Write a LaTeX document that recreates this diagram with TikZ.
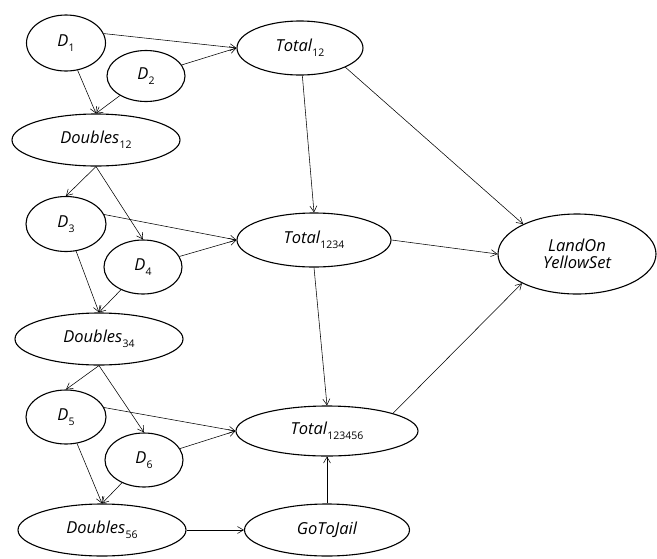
\documentclass[tikz,border=0pt]{standalone}
\usepackage{fontspec}
\setmainfont{Open Sans}
\usetikzlibrary{shapes.geometric,arrows.meta}
\newcommand{\lbl}[2]{\itshape #1\kern0.3pt\raisebox{-5pt}{\fontsize{10.5}{10.5}\selectfont\upshape #2}}
\begin{document}
\begin{tikzpicture}[x=1pt,y=-1pt,
  nd/.style={ellipse,draw,line width=1.1pt,inner sep=0pt,font=\fontsize{16.5}{19}\selectfont},
  arr/.style={-{Straight Barb[length=6pt,width=7pt]},line width=0.55pt}]
\useasboundingbox (0,0) rectangle (657,558);
\node[nd,minimum width=79,minimum height=56] (D1) at (66,43) {\lbl{D}{1}};
\node[nd,minimum width=78,minimum height=51] (D2) at (146,76) {\lbl{D}{2}};
\node[nd,minimum width=126,minimum height=54] (T12) at (300,48) {\lbl{Total}{12}};
\node[nd,minimum width=168,minimum height=52] (B12) at (96,140) {\lbl{Doubles}{12}};
\node[nd,minimum width=80,minimum height=55] (D3) at (66,224) {\lbl{D}{3}};
\node[nd,minimum width=78,minimum height=54] (D4) at (143,267) {\lbl{D}{4}};
\node[nd,minimum width=154,minimum height=54] (T1234) at (314,240) {\lbl{Total}{1234}};
\node[nd,minimum width=168,minimum height=52] (B34) at (99,339) {\lbl{Doubles}{34}};
\node[nd,minimum width=80,minimum height=54] (D5) at (66,417) {\lbl{D}{5}};
\node[nd,minimum width=78,minimum height=54] (D6) at (144,460) {\lbl{D}{6}};
\node[nd,minimum width=182,minimum height=50] (T123456) at (327,431) {\lbl{Total}{123456}};
\node[nd,minimum width=168,minimum height=52] (B56) at (102,530) {\lbl{Doubles}{56}};
\node[nd,minimum width=165,minimum height=52] (GTJ) at (327,530) {\itshape GoToJail};
\node[nd,minimum width=158,minimum height=80,align=center] (LOY) at (577,254) {\itshape LandOn\\[-2pt]\itshape YellowSet};
% edges
\draw[arr] (D1.14) -- (T12.west);
\draw[arr] (D2) -- (T12.west);
\draw[arr] (D1) -- (B12.north);
\draw[arr] (D2) -- (B12.north);
\draw[arr] (B12.south) -- (D3.north);
\draw[arr] (B12.south) -- (D4.north);
\draw[arr] (D3.14) -- (T1234.west);
\draw[arr] (D4) -- (T1234.west);
\draw[arr] (D3) -- (B34.north);
\draw[arr] (D4) -- (B34.north);
\draw[arr] (B34.south) -- (D5.north);
\draw[arr] (B34.south) -- (D6.north);
\draw[arr] (D5.14) -- (T123456.west);
\draw[arr] (D6) -- (T123456.west);
\draw[arr] (D5) -- (B56.north);
\draw[arr] (D6) -- (B56.north);
\draw[arr] (T12) -- (T1234.north);
\draw[arr] (T12.-23) -- (LOY.151);
\draw[arr] (T1234.east) -- (LOY.west);
\draw[arr] (T1234.south) -- (T123456.north);
\draw[arr] (T123456.15) -- (LOY.-152);
\draw[arr] (GTJ.north) -- (T123456.south);
\draw[arr] (B56.east) -- (GTJ.west);
\end{tikzpicture}
\end{document}
